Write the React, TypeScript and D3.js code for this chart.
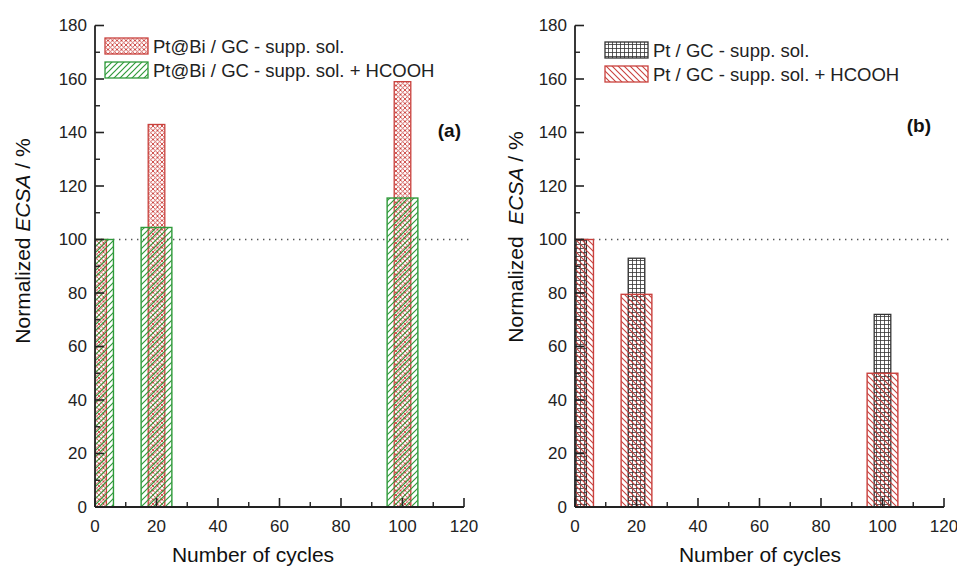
import React from "react";
import * as d3 from "d3";

// Cycle numbers at which ECSA was measured
const cycles = [1, 20, 100];

// Panel (a): Pt@Bi / GC
const ptBiSupp = [100, 143, 159];
const ptBiHcooh = [100, 104.5, 115.5];

// Panel (b): Pt / GC
const ptSupp = [100, 93, 72];
const ptHcooh = [100, 79.5, 50];

const xMajorTicks = [0, 20, 40, 60, 80, 100, 120];
const xMinorTicks = [10, 30, 50, 70, 90, 110];
const yMajorTicks = [0, 20, 40, 60, 80, 100, 120, 140, 160, 180];
const yMinorTicks = [10, 30, 50, 70, 90, 110, 130, 150, 170];

const legendA = ["Pt@Bi / GC - supp. sol.", "Pt@Bi / GC - supp. sol. + HCOOH"];
const legendB = ["Pt / GC - supp. sol.", "Pt / GC - supp. sol. + HCOOH"];

const W = 957;
const H = 568;
const FONT = "'Liberation Sans', Arial, Helvetica, sans-serif";
const RED = "#c9413d";
const GREEN = "#2f9a3a";
const DARK = "#222";

const NARROW = 5.4; // bar width in cycle units
const WIDE = 10;

const y = d3.scaleLinear().domain([0, 180]).range([507, 25.5]);

type PanelProps = {
  id: string;
  x0: number;
  x1: number;
  narrow: number[];
  wide: number[];
  narrowFill: string;
  narrowStroke: string;
  wideFill: string;
  wideStroke: string;
  legend: string[];
  legendX: number;
  legendY: number[];
  label: string;
  labelX: number;
  labelY: number;
  xTitleX: number;
  yTitleX: number;
  yTitleY: number;
  yTitleGap: boolean;
  dotEnd: number;
};

function Panel(p: PanelProps) {
  const x = d3.scaleLinear().domain([0, 120]).range([p.x0, p.x1]);
  const y0 = y(0);
  const bar = (c: number, v: number, w: number) => ({
    x: x(c - w / 2),
    y: y(v),
    width: x(c + w / 2) - x(c - w / 2),
    height: y0 - y(v),
  });
  return (
    <g>
      <clipPath id={`clip-${p.id}`}>
        <rect x={p.x0} y={0} width={p.x1 - p.x0 + 40} height={y0} />
      </clipPath>
      {/* reference level at 100 % */}
      <line
        x1={p.x0}
        x2={p.dotEnd}
        y1={y(100)}
        y2={y(100)}
        stroke="#555"
        strokeWidth={1.3}
        strokeDasharray="1.4,4.6"
      />
      <g clipPath={`url(#clip-${p.id})`}>
        {cycles.map((c, i) => {
          const b = bar(c, p.narrow[i], NARROW);
          return (
            <rect key={`n${i}`} {...b} fill={p.narrowFill} stroke={p.narrowStroke} strokeWidth={1.3} />
          );
        })}
        {cycles.map((c, i) => {
          const b = bar(c, p.wide[i], WIDE);
          return (
            <rect key={`w${i}`} {...b} fill={p.wideFill} stroke={p.wideStroke} strokeWidth={1.4} />
          );
        })}
      </g>
      {/* axes */}
      <line x1={p.x0} x2={p.x0} y1={y(180)} y2={y0} stroke={DARK} strokeWidth={1.8} />
      <line x1={p.x0} x2={p.x1} y1={y0} y2={y0} stroke={DARK} strokeWidth={1.8} />
      {yMajorTicks.map((t) => (
        <g key={`ym${t}`}>
          <line x1={p.x0} x2={p.x0 + 9} y1={y(t)} y2={y(t)} stroke={DARK} strokeWidth={1.6} />
          <text
            x={p.x0 - 8}
            y={y(t)}
            dy="0.35em"
            textAnchor="end"
            fontFamily={FONT}
            fontSize={17}
            fill="#222"
          >
            {t}
          </text>
        </g>
      ))}
      {yMinorTicks.map((t) => (
        <line key={`yn${t}`} x1={p.x0} x2={p.x0 + 5} y1={y(t)} y2={y(t)} stroke={DARK} strokeWidth={1.4} />
      ))}
      {xMajorTicks.map((t) => (
        <g key={`xm${t}`}>
          <line x1={x(t)} x2={x(t)} y1={y0} y2={y0 - 9} stroke={DARK} strokeWidth={1.6} />
          <text x={x(t)} y={532} textAnchor="middle" fontFamily={FONT} fontSize={17} fill="#222">
            {t}
          </text>
        </g>
      ))}
      {xMinorTicks.map((t) => (
        <line key={`xn${t}`} x1={x(t)} x2={x(t)} y1={y0} y2={y0 - 5} stroke={DARK} strokeWidth={1.4} />
      ))}
      {/* axis titles */}
      <text x={p.xTitleX} y={562} textAnchor="middle" fontFamily={FONT} fontSize={21} fill="#111">
        Number of cycles
      </text>
      <text
        transform={`translate(${p.yTitleX},${p.yTitleY}) rotate(-90)`}
        textAnchor="middle"
        fontFamily={FONT}
        fontSize={21}
        fill="#111"
      >
        {p.yTitleGap ? "Normalized\u00a0\u00a0" : "Normalized "}
        <tspan fontStyle="italic">ECSA</tspan>
        {" / %"}
      </text>
      {/* legend */}
      {p.legend.map((s, i) => (
        <g key={`lg${i}`}>
          <rect
            x={p.legendX}
            y={p.legendY[i] - 15}
            width={43}
            height={16}
            fill={i === 0 ? p.narrowFill : p.wideFill}
            stroke={i === 0 ? p.narrowStroke : p.wideStroke}
            strokeWidth={1.3}
          />
          <text x={p.legendX + 48} y={p.legendY[i]} fontFamily={FONT} fontSize={18.5} fill="#222">
            {s}
          </text>
        </g>
      ))}
      <text
        x={p.labelX}
        y={p.labelY}
        textAnchor="end"
        fontFamily={FONT}
        fontSize={19}
        fontWeight="bold"
        fill="#111"
      >
        {p.label}
      </text>
    </g>
  );
}

export default function App() {
  return (
    <svg
      width={W}
      height={H}
      viewBox={`0 0 ${W} ${H}`}
      style={{ position: "absolute", left: 0, top: 0, background: "#fff" }}
    >
      <defs>
        <pattern id="redCross" patternUnits="userSpaceOnUse" width={4.5} height={4.5}>
          <rect width={4.5} height={4.5} fill="#fff" />
          <path d="M0,0L4.5,4.5M4.5,0L0,4.5" stroke={RED} strokeWidth={0.9} />
        </pattern>
        <pattern id="greenHatch" patternUnits="userSpaceOnUse" width={6} height={6}>
          <path d="M-1.5,1.5L1.5,-1.5M0,6L6,0M4.5,7.5L7.5,4.5" stroke={GREEN} strokeWidth={1.2} />
        </pattern>
        <pattern id="blackGrid" patternUnits="userSpaceOnUse" width={4} height={4}>
          <rect width={4} height={4} fill="#fff" />
          <path d="M0,0.5H4M0.5,0V4" stroke="#333" strokeWidth={0.8} />
        </pattern>
        <pattern id="redBack" patternUnits="userSpaceOnUse" width={6} height={6}>
          <path d="M-1.5,4.5L1.5,7.5M0,0L6,6M4.5,-1.5L7.5,1.5" stroke={RED} strokeWidth={1.1} />
        </pattern>
      </defs>
      <rect width={W} height={H} fill="#fff" />
      <Panel
        id="a"
        x0={95}
        x1={464}
        narrow={ptBiSupp}
        wide={ptBiHcooh}
        narrowFill="url(#redCross)"
        narrowStroke={RED}
        wideFill="url(#greenHatch)"
        wideStroke={GREEN}
        legend={legendA}
        legendX={105}
        legendY={[53, 77]}
        label="(a)"
        labelX={461}
        labelY={137}
        xTitleX={253}
        yTitleX={30}
        yTitleY={241}
        yTitleGap={false}
        dotEnd={473}
      />
      <Panel
        id="b"
        x0={575}
        x1={944}
        narrow={ptSupp}
        wide={ptHcooh}
        narrowFill="url(#blackGrid)"
        narrowStroke="#333"
        wideFill="url(#redBack)"
        wideStroke={RED}
        legend={legendB}
        legendX={605}
        legendY={[57, 81]}
        label="(b)"
        labelX={931}
        labelY={132}
        xTitleX={760}
        yTitleX={523}
        yTitleY={237}
        yTitleGap={true}
        dotEnd={952}
      />
    </svg>
  );
}
